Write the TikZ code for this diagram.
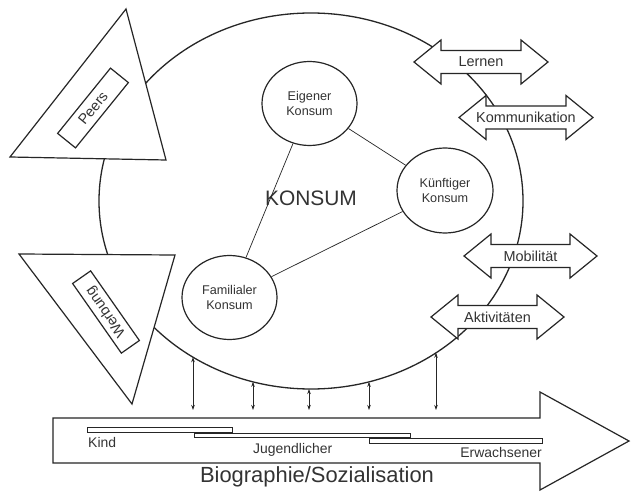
\documentclass[tikz,border=0pt]{standalone}
\usepackage{fontspec}
\setmainfont{Liberation Sans}
\usetikzlibrary{shapes.geometric,arrows.meta}
\definecolor{ink}{HTML}{262626}
\definecolor{txt}{HTML}{333333}

% double-headed block arrow with a centred label:
% #1 name, #2 left tip x, #3 right tip x, #4 centre y, #5 label
\newcommand\dblarrow[5]{%
  \filldraw[frame]
    ({#2},{#4}) -- ({#2+27},{#4-22}) -- ({#2+27},{#4-11.5})
    -- ({#3-27},{#4-11.5}) -- ({#3-27},{#4-22}) -- ({#3},{#4})
    -- ({#3-27},{#4+22}) -- ({#3-27},{#4+11.5})
    -- ({#2+27},{#4+11.5}) -- ({#2+27},{#4+22}) -- cycle;
  \node[arrowlabel] (#1) at ({(#2+#3)/2},{#4}) {#5};%
}

\begin{document}
\begin{tikzpicture}[x=1bp,y=-1bp,
  frame/.style={draw=ink,fill=white,line width=1.2bp,line join=miter},
  arrowlabel/.style={text=txt,inner sep=0pt,font=\fontsize{14.5}{16}\selectfont},
  sphere/.style={ellipse,draw=ink,fill=white,line width=1.2bp,inner sep=0pt,
    minimum width=95bp,minimum height=84bp,align=center,text=txt,
    font=\fontsize{12.7}{15}\selectfont},
  tag/.style={draw=ink,fill=white,line width=1.2bp,minimum width=84bp,
    minimum height=23bp,inner sep=0pt,text=txt,font=\fontsize{14.5}{16}\selectfont},
  link/.style={draw=ink,line width=0.7bp},
  exchange/.style={draw=ink,line width=0.8bp,
    {Stealth[length=5bp,width=3.5bp]}-{Stealth[length=5bp,width=3.5bp]}},
  phase/.style={draw=ink,fill=white,line width=1bp},
  phaselabel/.style={text=txt,inner sep=0pt,font=\fontsize{14}{16}\selectfont}]

\fill[white] (0,0) rectangle (631,494);
\useasboundingbox (0,0) rectangle (631,494);

% the large consumption sphere
\node[ellipse,draw=ink,line width=1.3bp,inner sep=0pt,
  minimum width=424bp,minimum height=376bp] (konsum) at (311,201) {};
\node[text=txt,inner sep=0pt,font=\fontsize{21}{24}\selectfont]
  (konsumlabel) at (311,198.5) {KONSUM};

% influence triangles on the left
\filldraw[frame] (126,9) -- (10,157) -- (166,160) -- cycle;
\node[tag,rotate=51] (peers) at (93,108) {Peers};
\filldraw[frame] (19,254) -- (175,255) -- (132,404) -- cycle;
\node[tag,rotate=125,minimum width=85bp,minimum height=22bp] (werbung) at (106,312) {Werbung};

% fields of activity on the right
\dblarrow{lernen}{414}{548}{62}{Lernen}
\dblarrow{kommunikation}{459}{593}{117.5}{Kommunikation}
\dblarrow{mobilitaet}{464}{597}{256}{Mobilität}
\dblarrow{aktivitaeten}{431}{564}{317}{Aktivitäten}

% three forms of consumption
\node[sphere] (eigen) at (309.5,103.5) {Eigener\\Konsum};
\node[sphere,minimum width=96bp,minimum height=85bp] (kuenftig) at (445,190.5) {Künftiger\\Konsum};
\node[sphere] (familie) at (229.5,297.5) {Familialer\\Konsum};
\draw[link] (eigen) -- (kuenftig);
\draw[link] (eigen) -- (familie);
\draw[link] (kuenftig) -- (familie);

% life course arrow
\filldraw[frame] (53,418) -- (540,418) -- (540,392) -- (629,441)
  -- (540,490) -- (540,463) -- (53,463) -- cycle;
\node[text=txt,inner sep=0pt,font=\fontsize{22}{24}\selectfont,anchor=base]
  (biographie) at (317,482) {Biographie/Sozialisation};

% exchange between life course and consumption
\foreach \i/\x/\y in {1/193/357.2,2/253/381.8,3/309/389,4/369/381.8,5/436/352.8}{
  \coordinate (up\i) at (\x,\y);
  \coordinate (down\i) at (\x,410);
  \draw[exchange] (up\i) -- (down\i);
}

% life phases
\draw[phase] (87,427.5) rectangle (232,432);
\draw[phase] (194,433) rectangle (410,437.5);
\draw[phase] (369,438.5) rectangle (542,443.5);
\node[phaselabel,anchor=base west] (kind) at (88,447) {Kind};
\node[phaselabel,anchor=base west] (jugend) at (253,453) {Jugendlicher};
\node[phaselabel,anchor=base east] (erwachsen) at (542,457) {Erwachsener};

\end{tikzpicture}
\end{document}
